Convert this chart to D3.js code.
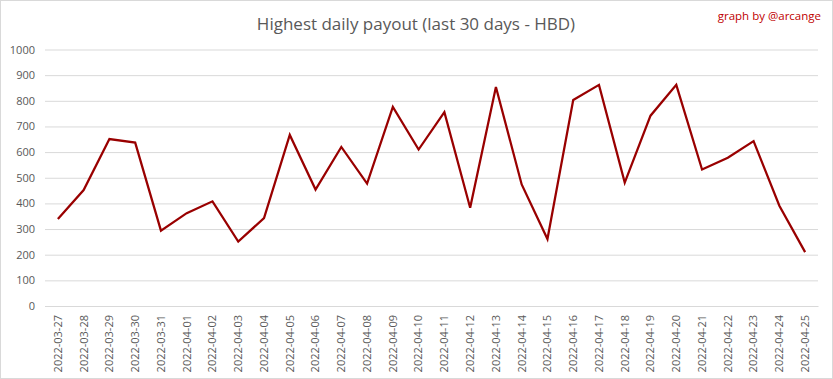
<!DOCTYPE html>
<html><head><meta charset="utf-8">
<script src="https://cdn.jsdelivr.net/npm/d3@7"></script>
<style>body{margin:0;background:#fff}svg{display:block}</style>
</head><body>
<script>
const categories = ["2022-03-27","2022-03-28","2022-03-29","2022-03-30","2022-03-31","2022-04-01","2022-04-02","2022-04-03","2022-04-04","2022-04-05","2022-04-06","2022-04-07","2022-04-08","2022-04-09","2022-04-10","2022-04-11","2022-04-12","2022-04-13","2022-04-14","2022-04-15","2022-04-16","2022-04-17","2022-04-18","2022-04-19","2022-04-20","2022-04-21","2022-04-22","2022-04-23","2022-04-24","2022-04-25"];
const payouts = [339,452,651,637,294,362,408,251,343,667,454,620,477,776,610,756,383,854,474,261,803,862,481,742,862,532,578,643,391,210];
const yTicks = [0,100,200,300,400,500,600,700,800,900,1000];
const title = "Highest daily payout (last 30 days - HBD)";
const credit = "graph by @arcange";

const W = 833, H = 379;
const font = "'Liberation Sans Narrow','Open Sans',Arial,sans-serif";
const svg = d3.select("body").append("svg").attr("width", W).attr("height", H);
svg.append("rect").attr("x",0.5).attr("y",0.5).attr("width",W-1).attr("height",H-1)
  .attr("fill","#fff").attr("stroke","#d9d9d9");

const x = d3.scaleBand().domain(categories).range([45, 818]);
const y = d3.scaleLinear().domain([0, 1000]).range([306, 49.5]);

const g = svg.append("g");
const yAxis = g.append("g").attr("transform","translate(45,0)")
  .call(d3.axisLeft(y).tickValues(yTicks).tickFormat(d3.format("d")).tickSize(-(818-45)).tickPadding(10));
yAxis.select(".domain").remove();
yAxis.selectAll("line").attr("stroke","#d9d9d9");
yAxis.selectAll("text").attr("fill","#595959").style("font-family",font).style("font-size","11px");

const xAxis = g.append("g").attr("transform","translate(0,306)")
  .call(d3.axisBottom(x).tickSize(0).tickPadding(0));
xAxis.select(".domain").attr("stroke","#d9d9d9");
xAxis.selectAll("text").attr("fill","#595959").style("font-family",font).style("font-size","11px")
  .attr("text-anchor","end").attr("transform","rotate(-90)").attr("x",-9).attr("y",0).attr("dy","0.35em");

const line = d3.line().x(d => x(d[0]) + x.bandwidth()/2).y(d => y(d[1]));
g.append("path").datum(categories.map((c,i)=>[c,payouts[i]]))
  .attr("d", line).attr("fill","none").attr("stroke","#990000").attr("stroke-width",2.25)
  .attr("stroke-linejoin","miter");

svg.append("text").attr("x", 416).attr("y", 30).attr("text-anchor","middle")
  .attr("fill","#595959").style("font-family",font).style("font-size","17px").text(title);
svg.append("text").attr("x", 821).attr("y", 20).attr("text-anchor","end")
  .attr("fill","#c00000").style("font-family",font).style("font-size","11.5px").text(credit);
</script>
</body></html>
